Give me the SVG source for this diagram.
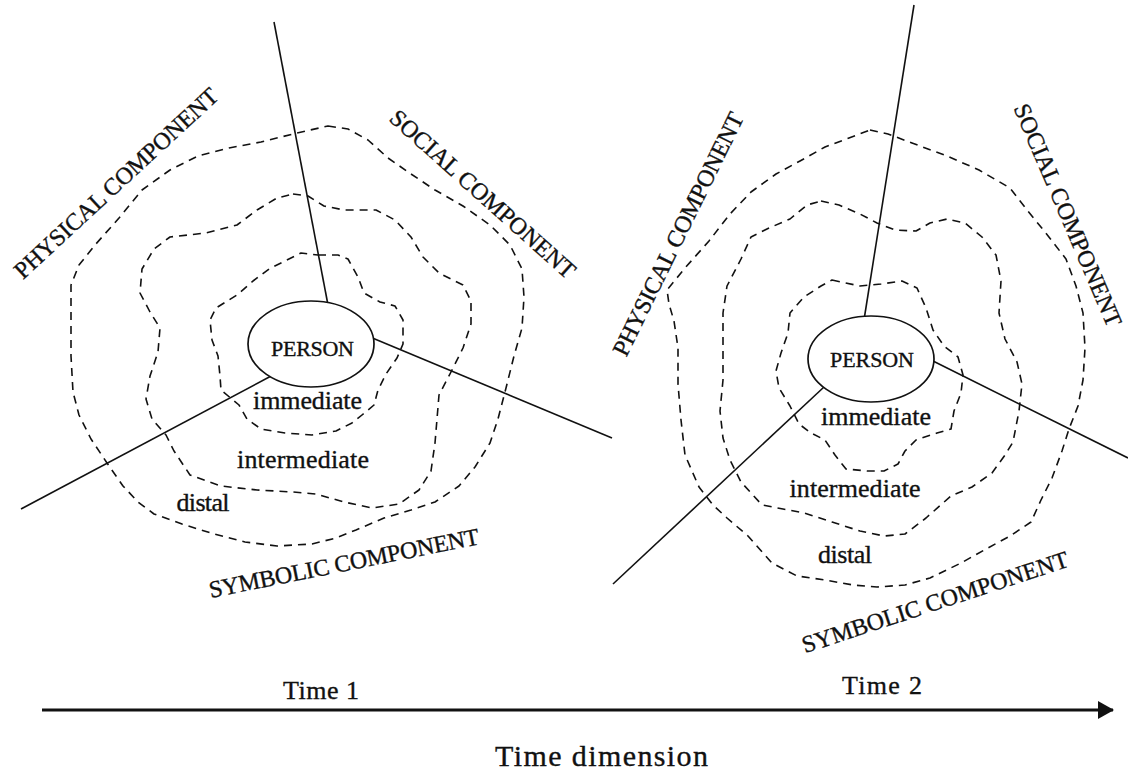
<svg xmlns="http://www.w3.org/2000/svg" width="1128" height="777" viewBox="0 0 1128 777">
  <style>
    text { font-family: "Liberation Serif", "DejaVu Serif", serif; fill: #111; stroke: #111; stroke-width: 0.35; }
    .ring { fill: none; stroke: #111; stroke-width: 1.6; stroke-dasharray: 8 6; stroke-linejoin: round; }
    .axis { stroke: #111; stroke-width: 1.6; fill: none; }
    .person { fill: #fff; stroke: #111; stroke-width: 1.7; }
    .comp { font-size: 24px; }
    .zone { font-size: 26px; }
    .who { font-size: 22px; }
  </style>
  <defs>
    <marker id="arrowhead" markerWidth="16" markerHeight="18" refX="15" refY="9" orient="auto" markerUnits="userSpaceOnUse">
      <path d="M0,0 L16,9 L0,18 Z" fill="#111"/>
    </marker>
  </defs>
  <rect width="1128" height="777" fill="#fff"/>

  <!-- Time 1: concentric environment zones -->
  <g id="time1-zones">
    <polygon class="ring" points="328,126 348,129 368,140 388,158 411,174 435,190 463,206 490,225 510,245 522,269 524,297 522,328 514,356 506,388 498,419 490,443 475,467 459,486 435,502 411,510 384,518 356,530 336,538 312,544 277,546 245,542 214,534 182,524 154,514 138,502 123,486 107,463 91,439 79,415 73,392 71,356 71,316 71,285 79,265 95,245 119,218 142,190 170,170 198,156 229,148 261,142 297,133"/>
    <polygon class="ring" points="293,194 308,196 324,206 344,210 376,210 395,220 411,237 423,257 439,273 463,285 471,301 471,324 463,348 451,372 439,395 437,419 435,443 431,471 419,490 399,504 372,508 344,502 316,494 293,492 257,490 221,486 190,475 174,451 166,435 152,419 146,399 150,376 158,352 160,328 150,312 140,293 142,269 154,249 170,237 206,233 237,225 257,210 277,198"/>
    <polygon class="ring" points="318,255 338,255 348,259 358,277 364,293 380,302 395,306 403,320 403,344 397,358 386,374 378,390 374,405 362,415 352,423 336,431 312,435 285,433 261,429 247,419 239,405 221,390 220,376 218,356 212,340 210,320 216,308 237,295 253,281 269,269 285,261 301,253"/>
  </g>

  <!-- Time 2: concentric environment zones -->
  <g id="time2-zones">
    <polygon class="ring" points="870,130 888,134 912,143 947,156 979,170 1010,188 1027,210 1045,232 1066,259 1076,286 1083,313 1085,348 1083,380 1078,406 1069,429 1062,451 1052,478 1041,500 1031,522 1010,536 986,549 961,563 930,578 905,585 877,587 853,585 825,580 797,576 772,563 748,536 727,518 713,505 699,487 685,455 681,420 678,384 678,348 674,321 669,304 667,290 685,268 709,241 730,214 751,192 776,174 800,161 825,147 849,138"/>
    <polygon class="ring" points="821,201 839,205 860,214 877,223 895,230 916,231 930,223 947,219 965,223 982,237 996,255 1001,281 999,313 1005,339 1017,362 1022,384 1019,411 1013,442 1005,455 992,473 972,487 951,496 926,518 905,534 884,536 860,531 832,522 804,513 783,509 762,505 741,482 730,460 723,438 720,411 723,380 723,348 723,313 727,286 741,259 751,237 769,228 790,219 807,205"/>
    <polygon class="ring" points="832,280 860,286 881,284 902,281 917,288 926,308 933,330 944,346 958,357 963,375 961,393 954,411 951,429 937,433 916,440 905,451 898,464 884,471 867,471 846,469 835,455 825,440 811,433 799,424 790,406 779,388 776,371 781,353 788,333 790,313 804,297 821,286"/>
  </g>

  <!-- radial dividers between the three components, and the time axis -->
  <g id="connectors">
    <line class="axis" x1="274" y1="22" x2="328" y2="305"/>
    <line class="axis" x1="370" y1="337" x2="612" y2="438"/>
    <line class="axis" x1="273" y1="375" x2="21" y2="509"/>
    <line class="axis" x1="914" y1="5" x2="864" y2="320"/>
    <line class="axis" x1="929" y1="359" x2="1128" y2="458"/>
    <line class="axis" x1="824" y1="387" x2="613" y2="584"/>
    <line x1="42" y1="710" x2="1113" y2="710" stroke="#111" stroke-width="3" marker-end="url(#arrowhead)"/>
  </g>

  <g id="person-1">
    <ellipse class="person" cx="311" cy="344" rx="63" ry="43"/>
    <text class="who" x="312.5" y="356" text-anchor="middle" textLength="83">PERSON</text>
  </g>
  <g id="person-2">
    <ellipse class="person" cx="871" cy="359" rx="63" ry="43"/>
    <text class="who" x="872" y="367" text-anchor="middle" textLength="84">PERSON</text>
  </g>

  <g id="time1-labels">
    <text class="comp" text-anchor="middle" dy="0.34em" textLength="268" transform="translate(116,183) rotate(-42.7)">PHYSICAL COMPONENT</text>
    <text class="comp" text-anchor="middle" dy="0.34em" textLength="240" transform="translate(483,194) rotate(41.8)">SOCIAL COMPONENT</text>
    <text class="comp" text-anchor="middle" dy="0.34em" textLength="275" transform="translate(344,563) rotate(-11.3)">SYMBOLIC COMPONENT</text>
    <text class="zone" x="307.5" y="409" text-anchor="middle" textLength="109">immediate</text>
    <text class="zone" x="303" y="468" text-anchor="middle" textLength="132">intermediate</text>
    <text class="zone" x="203" y="511" text-anchor="middle" textLength="53">distal</text>
  </g>

  <g id="time2-labels">
    <text class="comp" text-anchor="middle" dy="0.34em" textLength="268" transform="translate(678,234) rotate(-63.8)">PHYSICAL COMPONENT</text>
    <text class="comp" text-anchor="middle" dy="0.34em" textLength="240" transform="translate(1068,215) rotate(66.8)">SOCIAL COMPONENT</text>
    <text class="comp" text-anchor="middle" dy="0.34em" textLength="279" transform="translate(935,602) rotate(-18.2)">SYMBOLIC COMPONENT</text>
    <text class="zone" x="876" y="425" text-anchor="middle" textLength="110">immediate</text>
    <text class="zone" x="855" y="497" text-anchor="middle" textLength="131">intermediate</text>
    <text class="zone" x="845" y="563" text-anchor="middle" textLength="54">distal</text>
  </g>

  <g id="time-axis-labels">
    <text x="321" y="699" text-anchor="middle" font-size="26" textLength="76">Time 1</text>
    <text x="882" y="694" text-anchor="middle" font-size="26" textLength="80">Time 2</text>
    <text x="601.5" y="766" text-anchor="middle" font-size="30" textLength="213">Time dimension</text>
  </g>
</svg>
